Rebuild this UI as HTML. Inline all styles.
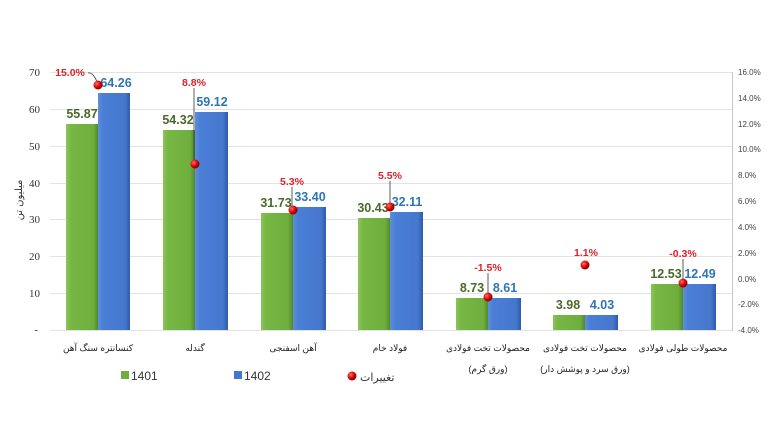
<!DOCTYPE html>
<html><head><meta charset="utf-8"><style>
html,body{margin:0;padding:0;background:#fff;}
svg{display:block;}
text{font-family:"Liberation Sans","DejaVu Sans",sans-serif;}
.fa{font-family:"DejaVu Sans","Noto Sans CJK SC",sans-serif;}
</style></head><body>
<svg width="768" height="432" viewBox="0 0 768 432" xmlns="http://www.w3.org/2000/svg">
<defs>
<linearGradient id="g" x1="0" x2="1"><stop offset="0" stop-color="#8cc65a"/><stop offset="0.15" stop-color="#77b744"/><stop offset="0.85" stop-color="#6fae3e"/><stop offset="1" stop-color="#4f8a2a"/></linearGradient>
<linearGradient id="b" x1="0" x2="1"><stop offset="0" stop-color="#5f8fdc"/><stop offset="0.15" stop-color="#4a7fd6"/><stop offset="0.85" stop-color="#4577cc"/><stop offset="1" stop-color="#2d5aa8"/></linearGradient>
<radialGradient id="r" cx="0.35" cy="0.35" r="0.7"><stop offset="0" stop-color="#ff6a6a"/><stop offset="0.6" stop-color="#d40000"/><stop offset="1" stop-color="#7a0000"/></radialGradient>
</defs>
<g stroke="#e3e3e3" stroke-width="1">
<line x1="50" x2="732" y1="72.5" y2="72.5"/><line x1="50" x2="732" y1="109.5" y2="109.5"/><line x1="50" x2="732" y1="146.5" y2="146.5"/><line x1="50" x2="732" y1="183.5" y2="183.5"/><line x1="50" x2="732" y1="219.5" y2="219.5"/><line x1="50" x2="732" y1="256.5" y2="256.5"/><line x1="50" x2="732" y1="293.5" y2="293.5"/><line x1="50" x2="732" y1="330.5" y2="330.5"/>
</g>
<line x1="732.5" x2="732.5" y1="72" y2="331" stroke="#c8c8c8"/>
<g font-size="11" fill="#333" text-anchor="end">
<text x="40" y="76" style="font-family:'Liberation Serif',serif">70</text><text x="40" y="113" style="font-family:'Liberation Serif',serif">60</text><text x="40" y="150" style="font-family:'Liberation Serif',serif">50</text><text x="40" y="187" style="font-family:'Liberation Serif',serif">40</text><text x="40" y="223" style="font-family:'Liberation Serif',serif">30</text><text x="40" y="260" style="font-family:'Liberation Serif',serif">20</text><text x="40" y="297" style="font-family:'Liberation Serif',serif">10</text><text x="38" y="333" style="font-family:'Liberation Serif',serif">-</text>
</g>
<text class="fa" font-size="10" fill="#333" transform="translate(22,200) rotate(-90)" text-anchor="middle">میلیون تن</text>
<g font-size="8" fill="#444">
<text x="738" y="75">16.0%</text><text x="738" y="101">14.0%</text><text x="738" y="127">12.0%</text><text x="738" y="152">10.0%</text><text x="738" y="178">8.0%</text><text x="738" y="204">6.0%</text><text x="738" y="230">4.0%</text><text x="738" y="256">2.0%</text><text x="738" y="282">0.0%</text><text x="738" y="307">-2.0%</text><text x="738" y="333">-4.0%</text>
</g>
<g>
<rect x="66" y="124" width="32" height="206" fill="url(#g)"/><rect x="98" y="93" width="32" height="237" fill="url(#b)"/>
<rect x="163" y="130" width="32" height="200" fill="url(#g)"/><rect x="195" y="112" width="33" height="218" fill="url(#b)"/>
<rect x="261" y="213" width="32" height="117" fill="url(#g)"/><rect x="293" y="207" width="33" height="123" fill="url(#b)"/>
<rect x="358" y="218" width="32" height="112" fill="url(#g)"/><rect x="390" y="212" width="33" height="118" fill="url(#b)"/>
<rect x="456" y="298" width="32" height="32" fill="url(#g)"/><rect x="488" y="298" width="33" height="32" fill="url(#b)"/>
<rect x="553" y="315" width="32" height="15" fill="url(#g)"/><rect x="585" y="315" width="33" height="15" fill="url(#b)"/>
<rect x="651" y="284" width="32" height="46" fill="url(#g)"/><rect x="683" y="284" width="33" height="46" fill="url(#b)"/>
</g>
<g font-size="12.5" font-weight="bold" text-anchor="middle">
<g fill="#4a6a2a">
<text x="82" y="118">55.87</text><text x="178" y="124">54.32</text><text x="276" y="207">31.73</text><text x="373" y="212">30.43</text><text x="472" y="292">8.73</text><text x="568" y="309">3.98</text><text x="666" y="278">12.53</text>
</g>
<g fill="#2e75b6">
<text x="116" y="87">64.26</text><text x="212" y="106">59.12</text><text x="310" y="201">33.40</text><text x="407" y="206">32.11</text><text x="505" y="292">8.61</text><text x="602" y="309">4.03</text><text x="700" y="278">12.49</text>
</g>
</g>
<g stroke="#333" stroke-width="0.8" fill="none">
<path d="M88,73 Q93,72 97,82"/>
<line x1="194" y1="88" x2="194" y2="164"/>
<line x1="292" y1="187" x2="292" y2="210"/>
<line x1="390" y1="181" x2="390" y2="206"/>
<line x1="488" y1="273" x2="488" y2="297"/>
<line x1="683" y1="259" x2="683" y2="283"/>
</g>
<g fill="url(#r)">
<circle cx="98" cy="85" r="4.5"/><circle cx="195" cy="164" r="4.5"/><circle cx="293" cy="210" r="4.5"/><circle cx="390" cy="207" r="4.5"/><circle cx="488" cy="297" r="4.5"/><circle cx="585" cy="265" r="4.5"/><circle cx="683" cy="283" r="4.5"/>
</g>
<g font-size="10.5" font-weight="bold" fill="#e0202a" text-anchor="middle">
<text x="70" y="76">15.0%</text><text x="194" y="86">8.8%</text><text x="292" y="185">5.3%</text><text x="390" y="179">5.5%</text><text x="488" y="271">-1.5%</text><text x="586" y="256">1.1%</text><text x="683" y="257">-0.3%</text>
</g>
<g class="fa" font-size="9" fill="#222" text-anchor="middle">
<text x="98" y="351">کنسانتره سنگ آهن</text>
<text x="195" y="351">گندله</text>
<text x="293" y="351">آهن اسفنجی</text>
<text x="390" y="351">فولاد خام</text>
<text x="488" y="351">محصولات تخت فولادی</text>
<text x="488" y="372">(ورق گرم)</text>
<text x="585" y="351">محصولات تخت فولادی</text>
<text x="585" y="372">(ورق سرد و پوشش دار)</text>
<text x="683" y="351">محصولات طولی فولادی</text>
</g>
<rect x="121" y="371" width="8" height="8" fill="#6fae3e"/><text x="131" y="380" font-size="12" fill="#333">1401</text>
<rect x="234" y="371" width="8" height="8" fill="#4577cc"/><text x="244" y="380" font-size="12" fill="#333">1402</text>
<circle cx="352" cy="376" r="4.5" fill="url(#r)"/><text class="fa" x="360" y="381" font-size="11" fill="#333">تغییرات</text>
</svg>
</body></html>
